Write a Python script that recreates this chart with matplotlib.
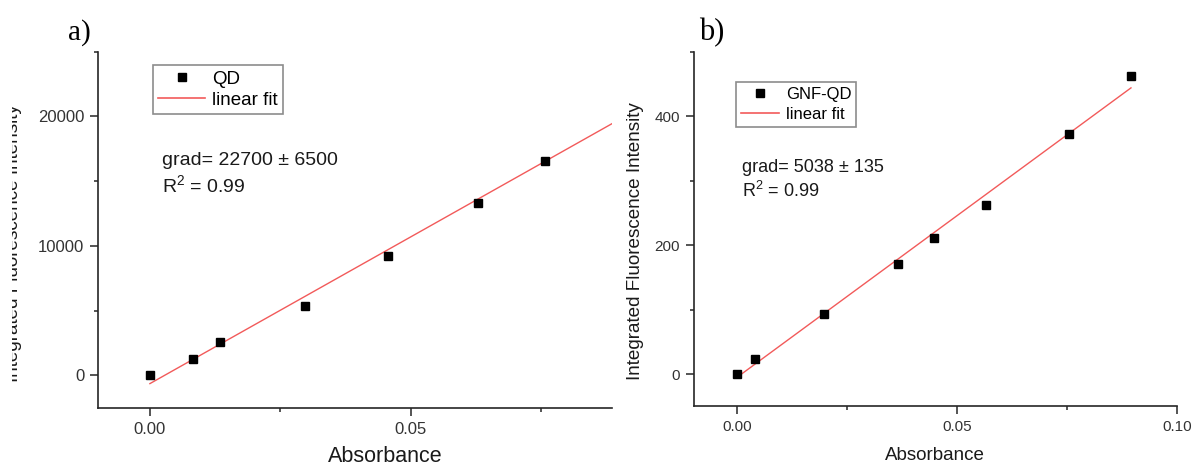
import matplotlib
matplotlib.use("Agg")
import matplotlib.pyplot as plt
from matplotlib.lines import Line2D
from matplotlib.ticker import MultipleLocator, FixedLocator
from matplotlib.transforms import Bbox
import numpy as np

# ---------------- data ----------------
abs_qd = [0.0, 0.0082, 0.0135, 0.0298, 0.0456, 0.0630, 0.0758]
int_qd = [0, 1240, 2570, 5320, 9200, 13290, 16530]
fit_qd_slope = 226500
fit_qd_intercept = -640
fit_qd_range = [0.0, 0.0886]

abs_gnf = [0.0, 0.0041, 0.0197, 0.0366, 0.0449, 0.0567, 0.0755, 0.0896]
int_gnf = [0, 22.7, 92.5, 171, 211, 262.5, 372.7, 462.5]
fit_gnf_slope = 5010
fit_gnf_intercept = -5
fit_gnf_range = [0.0, 0.0896]

xticks_a = [0.00, 0.05]
xticklabels_a = ["0.00", "0.05"]
yticks_a = [0, 10000, 20000]
xticks_b = [0.00, 0.05, 0.10]
xticklabels_b = ["0.00", "0.05", "0.10"]
yticks_b = [0, 200, 400]

legend_a = ["QD", "linear fit"]
legend_b = ["GNF-QD", "linear fit"]
grad_a = "grad= 22700 \u00b1 6500"
grad_b = "grad= 5038 \u00b1 135"
r2_text = "R$^{2}$ = 0.99"
xlabel = "Absorbance"
ylabel = "Integrated Fluorescence Intensity"

# ---------------- figure ----------------
W, H = 1195, 465
DPI = 100
plt.rcParams['font.family'] = ['Liberation Sans', 'DejaVu Sans']
plt.rcParams['mathtext.fontset'] = 'custom'
plt.rcParams['mathtext.rm'] = 'Liberation Sans'
plt.rcParams['mathtext.it'] = 'Liberation Sans'
plt.rcParams['mathtext.default'] = 'regular'
fig = plt.figure(figsize=(W / DPI, H / DPI), dpi=DPI)

def fx(px):
    return px / W

def fy(py):
    return 1 - py / H

SPINE = '#262626'
RED = '#f25a5a'
TXT = '#1a1a1a'


def make_axes(left, right, top, bottom):
    ax = fig.add_axes([fx(left), fy(bottom), fx(right - left), (bottom - top) / H])
    ax.spines['top'].set_visible(False)
    ax.spines['right'].set_visible(False)
    for s in ('left', 'bottom'):
        ax.spines[s].set_linewidth(1.2)
        ax.spines[s].set_color(SPINE)
    ax.tick_params(which='major', direction='out', length=6, width=1.1, color=SPINE,
                   labelcolor='#333333', pad=4)
    ax.tick_params(which='minor', direction='out', length=3, width=1.1, color=SPINE)
    return ax

# ---------------- panel a ----------------
axa = make_axes(98.3, 611.7, 51.7, 407.7)
axa.set_xlim(-0.0099, 0.0886)
axa.set_ylim(-2500, 25000)
axa.xaxis.set_major_locator(FixedLocator(xticks_a))
axa.set_xticklabels(xticklabels_a)
axa.xaxis.set_minor_locator(MultipleLocator(0.025))
axa.yaxis.set_major_locator(FixedLocator(yticks_a))
axa.yaxis.set_minor_locator(MultipleLocator(5000))
axa.tick_params(labelsize=12)
axa.plot(abs_qd, int_qd, 's', color='black', markersize=5.8, zorder=3, clip_on=False)
xf = np.array(fit_qd_range)
axa.plot(xf, fit_qd_intercept + fit_qd_slope * xf, '-', color=RED, lw=1.0, zorder=2)

ha_ = [Line2D([], [], marker='s', ls='none', color='black', markersize=5.8),
       Line2D([], [], color=RED, lw=1.2)]
leg = axa.legend(ha_, legend_a, loc='upper left',
                 bbox_to_anchor=((152.7 - 98.3) / 513.4, (407.7 - 65) / 356),
                 borderaxespad=0, fancybox=False, edgecolor='#8c8c8c', fontsize=13.5,
                 handlelength=2.5, handletextpad=0.35, borderpad=0.3, labelspacing=0.2,
                 framealpha=1)
leg.get_frame().set_linewidth(1.2)

fig.text(fx(162.5), fy(165), grad_a, fontsize=14, va='baseline', ha='left', color=TXT)
fig.text(fx(162.5), fy(191.7), r2_text, fontsize=14, va='baseline', ha='left', color=TXT)
fig.text(fx(385), fy(462), xlabel, fontsize=15.5, va='baseline', ha='center', color=TXT)

yl = fig.text(fx(22.5), fy(243), ylabel, fontsize=13.6, rotation=90, va='center',
              ha='right', color=TXT)
clipbox = Bbox.from_extents(11.7, 0, 60, H)
yl.set_clip_box(clipbox)
yl.set_clip_on(True)

fig.text(fx(68), fy(40), "a)", fontsize=21, family=['Liberation Serif'], va='baseline',
         ha='left', color='black')

# ---------------- panel b ----------------
axb = make_axes(694, 1176.7, 51.7, 406.3)
axb.set_xlim(-0.0098, 0.10)
axb.set_ylim(-50, 500)
axb.xaxis.set_major_locator(FixedLocator(xticks_b))
axb.set_xticklabels(xticklabels_b)
axb.xaxis.set_minor_locator(MultipleLocator(0.025))
axb.yaxis.set_major_locator(FixedLocator(yticks_b))
axb.yaxis.set_minor_locator(MultipleLocator(100))
axb.tick_params(labelsize=11)
axb.plot(abs_gnf, int_gnf, 's', color='black', markersize=5.3, zorder=3, clip_on=False)
xf = np.array(fit_gnf_range)
axb.plot(xf, fit_gnf_intercept + fit_gnf_slope * xf, '-', color=RED, lw=1.0, zorder=2)

hb_ = [Line2D([], [], marker='s', ls='none', color='black', markersize=5.3),
       Line2D([], [], color=RED, lw=1.2)]
legb = axb.legend(hb_, legend_b, loc='upper left',
                  bbox_to_anchor=((735.7 - 694) / 482.7, (406.3 - 81.7) / 354.6),
                  borderaxespad=0, fancybox=False, edgecolor='#8c8c8c', fontsize=12,
                  handlelength=2.3, handletextpad=0.4, borderpad=0.3, labelspacing=0.3,
                  framealpha=1)
legb.get_frame().set_linewidth(1.2)

fig.text(fx(742), fy(171.5), grad_b, fontsize=13, va='baseline', ha='left', color=TXT)
fig.text(fx(742), fy(197.3), r2_text, fontsize=13, va='baseline', ha='left', color=TXT)
fig.text(fx(935), fy(460), xlabel, fontsize=13.5, va='baseline', ha='center', color=TXT)
fig.text(fx(636), fy(241), ylabel, fontsize=13.6, rotation=90, va='center', ha='center',
         color=TXT)
fig.text(fx(699), fy(40), "b)", fontsize=22, family=['Liberation Serif'], va='baseline',
         ha='left', color='black')

fig.savefig("out.png", dpi=DPI)
